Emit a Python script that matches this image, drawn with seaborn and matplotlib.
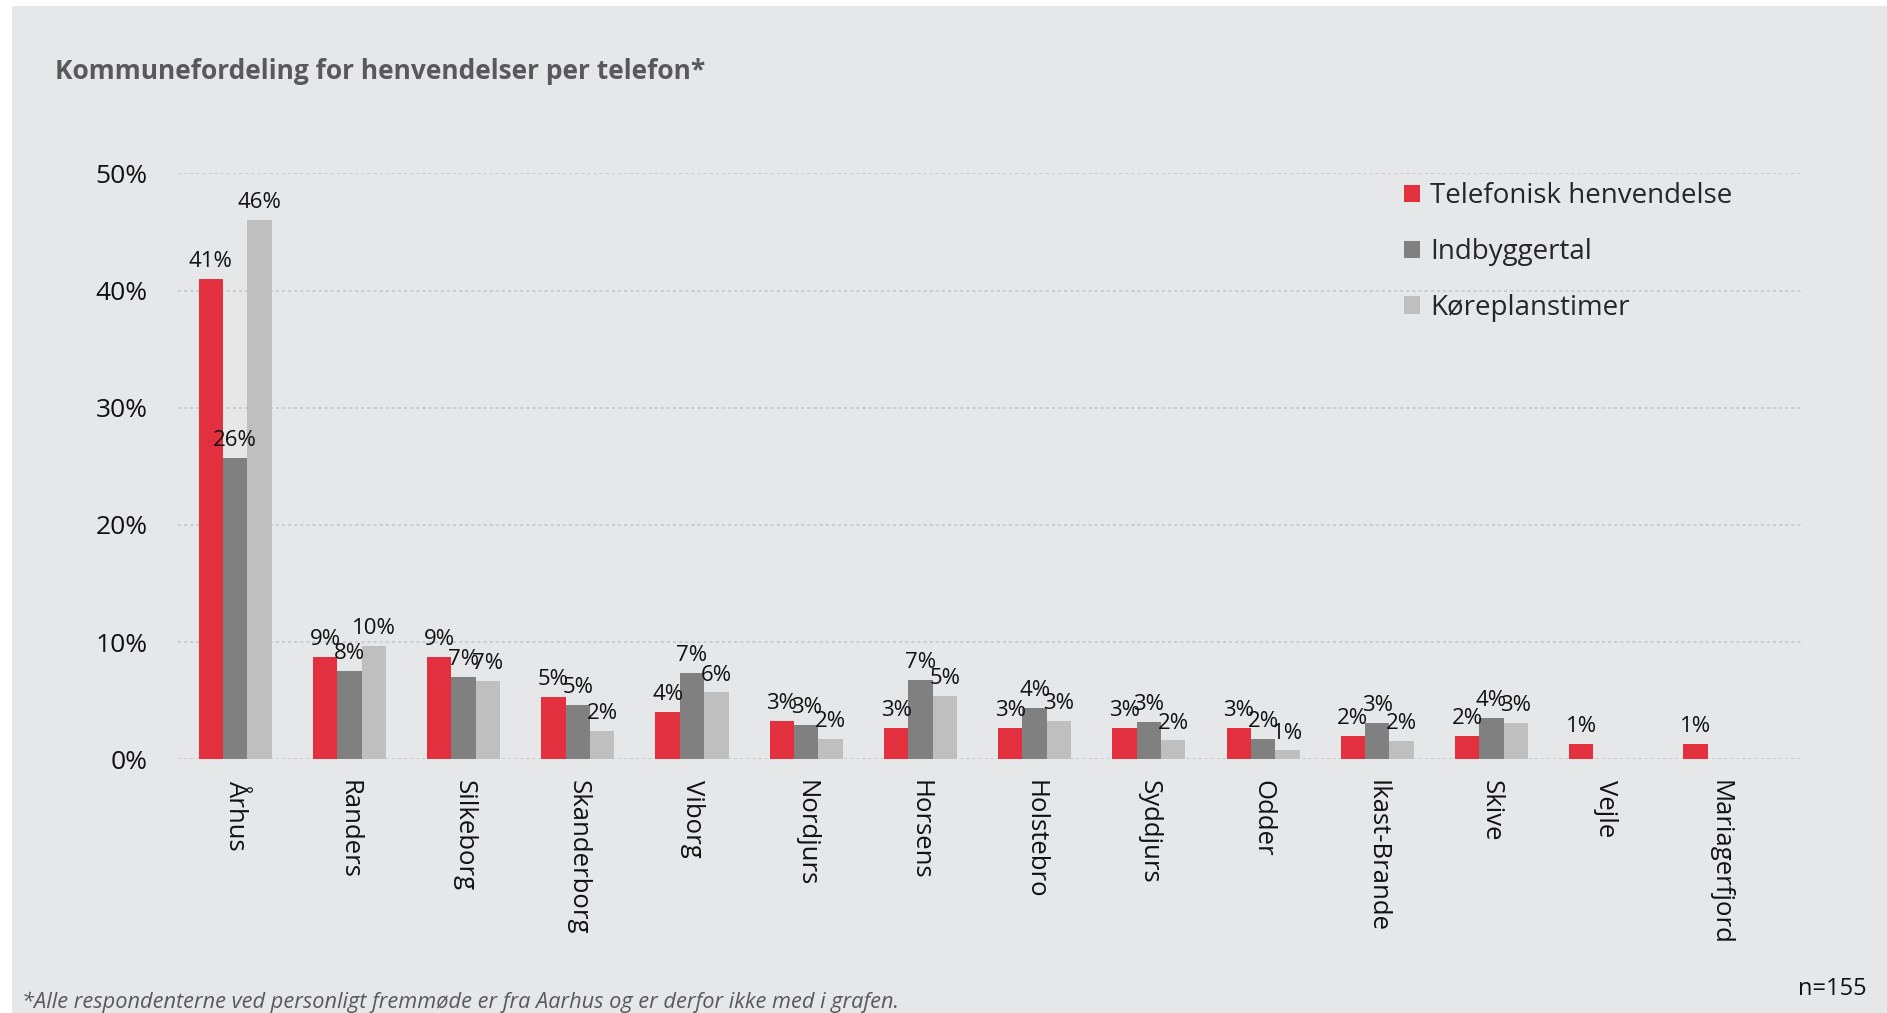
import numpy as np
import pandas as pd
import seaborn as sns
import matplotlib.pyplot as plt
from matplotlib.patches import Patch, Rectangle

# ==========================================
# Data (in %)
# ==========================================
kommuner = ["Århus", "Randers", "Silkeborg", "Skanderborg", "Viborg", "Nordjurs",
            "Horsens", "Holstebro", "Syddjurs", "Odder", "Ikast-Brande", "Skive",
            "Vejle", "Mariagerfjord"]
telefonisk = [41.0, 8.7, 8.7, 5.3, 4.0, 3.3, 2.7, 2.7, 2.7, 2.7, 2.0, 2.0, 1.3, 1.3]
indbyggertal = [25.7, 7.55, 7.0, 4.6, 7.35, 2.9, 6.75, 4.4, 3.2, 1.7, 3.1, 3.55, np.nan, np.nan]
koreplanstimer = [46.0, 9.7, 6.7, 2.4, 5.7, 1.7, 5.4, 3.3, 1.6, 0.75, 1.55, 3.1, np.nan, np.nan]

serier = ["Telefonisk henvendelse", "Indbyggertal", "Køreplanstimer"]
farver = ["#e3303e", "#808080", "#bfbfbf"]

df = pd.DataFrame({
    "Kommune": kommuner * 3,
    "Serie": np.repeat(serier, len(kommuner)),
    "Andel": telefonisk + indbyggertal + koreplanstimer,
})

# ==========================================
# Style
# ==========================================
sns.set_style("white")
plt.rcParams['font.family'] = ['Open Sans', 'DejaVu Sans']

bg = "#e6e7e8"
fig = plt.figure(figsize=(18.87, 10.13), dpi=100, facecolor="white")
# grey panel behind everything
fig.patches.append(Rectangle((12 / 1887, 0), 1, 1 - 6 / 1013, transform=fig.transFigure,
                             facecolor=bg, edgecolor="none", zorder=-5))

ax = fig.add_axes([0.0944, 0.2505, 0.8606, 0.5784])
ax.set_facecolor("none")

sns.barplot(data=df, x="Kommune", y="Andel", hue="Serie", order=kommuner,
            hue_order=serier, palette=farver, width=0.64, errorbar=None,
            saturation=1, linewidth=0, ax=ax, legend=False, zorder=3)

for cont in ax.containers:
    ax.bar_label(cont, fmt=lambda v: "" if np.isnan(v) else f"{round(v)}%",
                 padding=5, fontsize=16, color="#111111")

ax.set_ylim(0, 50)
ax.set_xlim(-0.5, 13.72)
ax.set_yticks(range(0, 51, 10))
ax.set_yticklabels([f"{t}%" for t in range(0, 51, 10)], fontsize=19, color="#111111")
ax.yaxis.grid(True, linestyle=(0, (2, 2)), color="#c4c4c4", linewidth=1.1, zorder=0)
ax.set_axisbelow(True)
ax.tick_params(axis="y", length=0, pad=22)
ax.tick_params(axis="x", length=0, pad=15)
for lbl in ax.get_xticklabels():
    lbl.set_rotation(270)
    lbl.set_fontsize(18.5)
    lbl.set_color("#111111")
    lbl.set_va("top")
    lbl.set_ha("center")
ax.set_xlabel("")
ax.set_ylabel("")
sns.despine(ax=ax, left=True, bottom=True)

# Legend
handles = [Patch(facecolor=c, edgecolor="none") for c in farver]
fig.legend(handles, serier, loc="upper left", bbox_to_anchor=(0.744, 0.82),
           frameon=False, fontsize=20, handlelength=0.58, handleheight=0.58,
           handletextpad=0.35, labelspacing=1.0, borderpad=0, borderaxespad=0)

# Title, footnote, n
fig.text(0.029, 0.929, "Kommunefordeling for henvendelser per telefon*",
         fontsize=19, fontweight="bold", color="#595959", va="center")
fig.text(0.0115, 0.011, "*Alle respondenterne ved personligt fremmøde er fra Aarhus og er derfor ikke med i grafen.",
         fontsize=15.7, fontstyle="italic", color="#595959", va="center")
fig.text(0.953, 0.024, "n=155", fontsize=17, color="#111111", va="center")

fig.savefig("out.png", dpi=100, facecolor="white")
